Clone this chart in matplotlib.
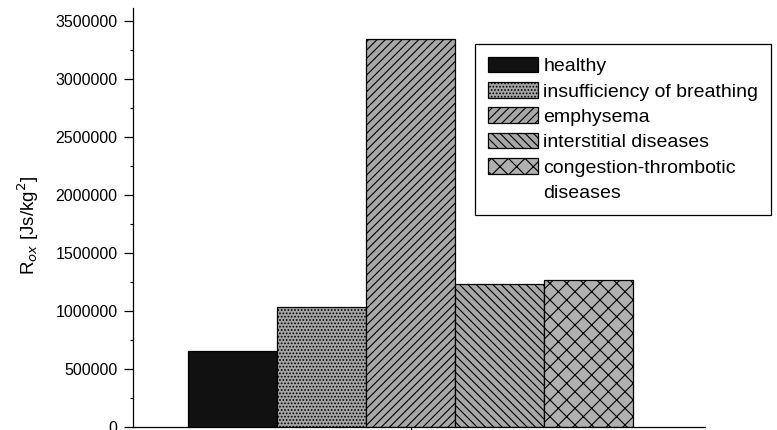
import matplotlib
matplotlib.use("Agg")
import matplotlib.pyplot as plt
from matplotlib.patches import Patch
from matplotlib.ticker import MultipleLocator, FixedLocator

plt.rcParams['font.family'] = ['Liberation Sans', 'DejaVu Sans']
plt.rcParams['hatch.linewidth'] = 0.8

categories = ["healthy", "insufficiency of breathing", "emphysema",
              "interstitial diseases", "congestion-thrombotic\ndiseases"]
values = [655000, 1030000, 3340000, 1230000, 1265000]
facecolors = ["#111111", "#a5a5a5", "#a8a8a8", "#a8a8a8", "#b0b0b0"]
hatches = [None, ".....", "////", "\\\\\\\\", "xx"]
yticks = [0, 500000, 1000000, 1500000, 2000000, 2500000, 3000000, 3500000]

fig = plt.figure(figsize=(7.77, 4.30), dpi=100)
ax = fig.add_axes([133/777, 3/430, 572/777, 419/430])

width = 0.2
n = len(categories)
handles, labels = [], []
for i, (cat, v, fc, h) in enumerate(zip(categories, values, facecolors, hatches)):
    x = (i - (n - 1) / 2) * width
    bars = ax.bar(x, v, width=width, color=fc, edgecolor="black", hatch=h,
                  linewidth=0.9)
    parts = cat.split("\n")
    handles.append(bars[0])
    labels.append(parts[0])
    for extra in parts[1:]:
        handles.append(Patch(facecolor="none", edgecolor="none"))
        labels.append(extra)

ax.set_xlim(-0.624, 0.662)
ax.set_ylim(0, 3610000)
ax.set_yticks(yticks)
ax.set_yticklabels([str(t) for t in yticks])
ax.yaxis.set_minor_locator(MultipleLocator(250000))
ax.xaxis.set_major_locator(FixedLocator([0]))
ax.set_xticklabels([])
ax.tick_params(axis='y', which='major', length=6.5, width=0.9, pad=4.5, labelsize=11.5)
ax.tick_params(axis='y', which='minor', length=2.5, width=0.8)
ax.tick_params(axis='x', which='major', length=4, width=0.9)
for s in ['top', 'right']:
    ax.spines[s].set_visible(False)
for s in ['left', 'bottom']:
    ax.spines[s].set_linewidth(0.9)

ax.set_ylabel("R$_{ox}$ [Js/kg$^2$]", fontsize=13.5)
ax.yaxis.set_label_coords(-0.16, 0.48)

leg = ax.legend(handles, labels, loc="upper left",
                bbox_to_anchor=(475/777, 1 - 44/430),
                bbox_transform=fig.transFigure, borderaxespad=0,
                fontsize=14, frameon=True, fancybox=False, framealpha=1,
                edgecolor="black", handlelength=2.6, handleheight=0.86,
                handletextpad=0.27, labelspacing=0.35, borderpad=0.65)
leg.get_frame().set_linewidth(0.9)

fig.savefig("out.png", dpi=100)
